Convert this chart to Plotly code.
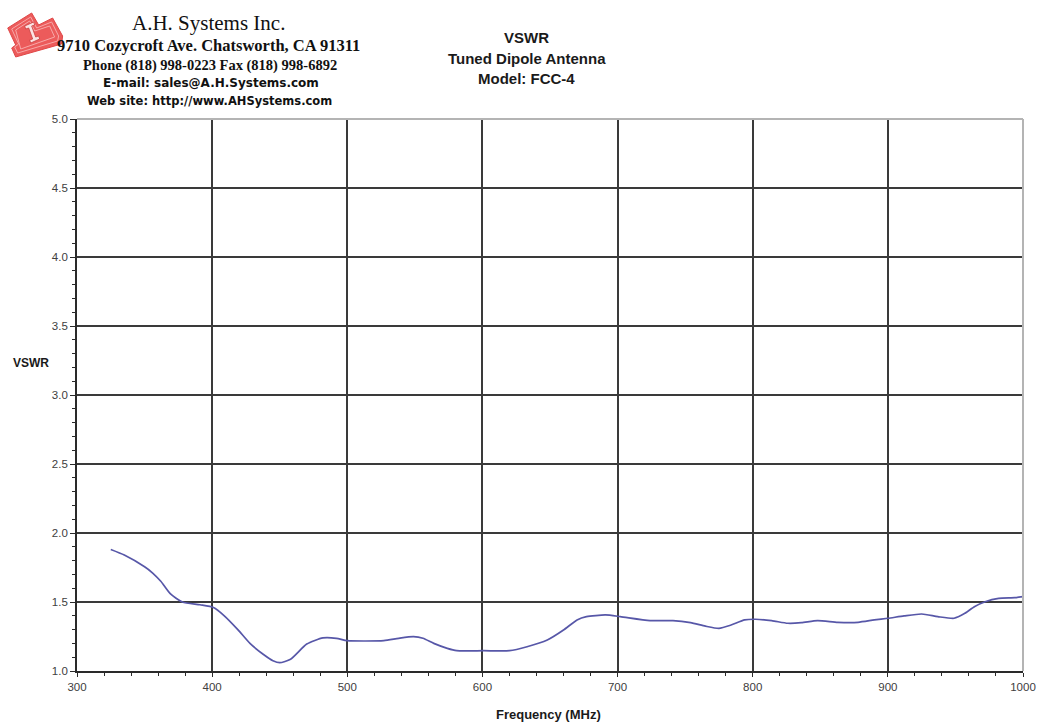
import plotly.graph_objects as go

# ---- data ----
freq_mhz = [325, 335, 350, 356, 362, 369, 378, 391, 401, 409, 419, 428, 438, 445, 450,
            458, 470, 482, 492, 500, 527, 538, 549, 556, 564, 574, 581, 601, 620, 633,
            648, 660, 670, 677, 691, 702, 724, 741, 754, 765, 775, 784, 794, 802, 814,
            826, 836, 848, 863, 878, 890, 900, 912, 925, 937, 949, 957, 964, 972, 982,
            994, 1000]
vswr = [1.88, 1.84, 1.755, 1.71, 1.65, 1.56, 1.50, 1.48, 1.46, 1.40, 1.30, 1.20, 1.12, 1.075, 1.06,
        1.085, 1.195, 1.24, 1.237, 1.22, 1.22, 1.237, 1.249, 1.237, 1.20, 1.164, 1.147, 1.147, 1.147, 1.176,
        1.225, 1.297, 1.37, 1.394, 1.406, 1.394, 1.365, 1.365, 1.35, 1.325, 1.309, 1.333, 1.37, 1.375, 1.365,
        1.346, 1.35, 1.365, 1.353, 1.353, 1.37, 1.382, 1.399, 1.413, 1.394, 1.382, 1.418, 1.466, 1.502, 1.526,
        1.531, 1.539]

x_tick_vals = [300, 400, 500, 600, 700, 800, 900, 1000]
y_tick_vals = [1.0, 1.5, 2.0, 2.5, 3.0, 3.5, 4.0, 4.5, 5.0]
y_tick_text = ["1.0", "1.5", "2.0", "2.5", "3.0", "3.5", "4.0", "4.5", "5.0"]

company_lines = ["A.H. Systems Inc.",
                 "9710 Cozycroft Ave. Chatsworth, CA 91311",
                 "Phone (818) 998-0223 Fax (818) 998-6892",
                 "E-mail: sales@A.H.Systems.com",
                 "Web site: http://www.AHSystems.com"]
title_lines = ["VSWR", "Tuned Dipole Antenna", "Model: FCC-4"]

# ---- layout geometry ----
W, H = 1048, 724
L, R, T, B = 77, 16, 119, 53
PW, PH = W - L - R, H - T - B


def px(xp):
    """x position in the 1040-wide target picture -> paper coordinate."""
    return (xp * W / 1040 - L) / PW


def py(yp):
    return (H - B - yp) / PH


fig = go.Figure()
fig.add_trace(go.Scatter(x=freq_mhz, y=vswr, mode="lines",
                         line=dict(color="#5757a8", width=1.7, shape="spline", smoothing=0.6),
                         hoverinfo="x+y", showlegend=False))

grid_col = "#3a3a3a"
tick_font = dict(family="Liberation Sans, Arial, sans-serif", size=11.5, color="#404040")

fig.update_xaxes(range=[300, 1000], tickvals=x_tick_vals, showgrid=True, gridcolor=grid_col,
                 gridwidth=1.7, showline=True, linecolor="#2a2a2a", linewidth=1.7,
                 ticks="outside", ticklen=4, tickcolor="#2a2a2a", tickwidth=1.2,
                 minor=dict(dtick=20, tick0=300, ticks="outside", ticklen=3,
                            tickcolor="#2a2a2a", tickwidth=1.2, showgrid=False),
                 tickfont=tick_font, zeroline=False)
fig.update_yaxes(range=[1.0, 5.0], tickvals=y_tick_vals, ticktext=y_tick_text, showgrid=True,
                 gridcolor=grid_col, gridwidth=1.7, showline=True, linecolor="#2a2a2a",
                 linewidth=1.7, ticks="outside", ticklen=5, tickcolor="#2a2a2a", tickwidth=1.2,
                 minor=dict(dtick=0.1, tick0=1.0, ticks="outside", ticklen=3,
                            tickcolor="#2a2a2a", tickwidth=1.2, showgrid=False),
                 tickfont=tick_font, zeroline=False)

shapes = [
    # light grey top and right border of the plot frame
    dict(type="line", xref="paper", yref="paper", x0=0, x1=1, y0=1, y1=1,
         line=dict(color="#b4b4b4", width=2), layer="above"),
    dict(type="line", xref="paper", yref="paper", x0=1, x1=1, y0=0, y1=1,
         line=dict(color="#b4b4b4", width=2), layer="above"),
]


def poly(points, fill, line_col, lw=1.0):
    d = "M " + " L ".join(f"{px(a):.5f},{py(b):.5f}" for a, b in points) + " Z"
    return dict(type="path", xref="paper", yref="paper", path=d, fillcolor=fill,
                line=dict(color=line_col, width=lw), layer="above")


# logo (stylised)
shapes.append(poly([(7, 28), (31, 13), (38, 25), (52, 18), (62, 36), (61, 44),
                    (15, 57), (11, 48), (15, 45)], "#ec5b5b", "#e04848", 1.0))
shapes.append(poly([(11, 29), (30, 17), (36, 28), (51, 22), (58, 36), (57, 41),
                    (17, 53), (14, 47), (18, 44)], "rgba(0,0,0,0)", "#f7a8a8", 1.0))
shapes.append(poly([(15, 30), (29, 21), (34, 31), (49, 26), (54, 37), (20, 49)],
                   "rgba(0,0,0,0)", "#f7a8a8", 1.0))
shapes.append(poly([(24, 26), (33, 22), (34, 25), (31, 26), (35, 37), (38, 36),
                    (39, 39), (30, 43), (29, 40), (32, 39), (28, 28), (25, 29)],
                   "#fbe3e3", "#c84040", 0.8))

annotations = []
serif = "Liberation Serif, Times New Roman, serif"
sans = "Liberation Sans, Arial, sans-serif"
wide_sans = "DejaVu Sans, Verdana, sans-serif"
comp_specs = [(208, 23, serif, 21, False), (208, 46, serif, 16.5, True),
              (210, 65, serif, 14.5, True), (211, 83, wide_sans, 12, True),
              (209, 101, wide_sans, 11.5, True)]
for text, (cx, cy, fam, size, bold) in zip(company_lines, comp_specs):
    annotations.append(dict(xref="paper", yref="paper", x=px(cx), y=py(cy), text=f"<b>{text}</b>" if bold else text,
                            showarrow=False, xanchor="center", yanchor="middle",
                            font=dict(family=fam, size=size, color="#111111")))
for text, cy in zip(title_lines, [38, 59, 78]):
    annotations.append(dict(xref="paper", yref="paper", x=px(527), y=py(cy), text=f"<b>{text}</b>",
                            showarrow=False, xanchor="center", yanchor="middle",
                            font=dict(family=sans, size=15, color="#1a1a1a")))
annotations.append(dict(xref="paper", yref="paper", x=px(30), y=py(363), text="<b>VSWR</b>",
                        showarrow=False, xanchor="center", yanchor="middle",
                        font=dict(family=sans, size=12, color="#1a1a1a")))
annotations.append(dict(xref="paper", yref="paper", x=px(549), y=py(714), text="<b>Frequency (MHz)</b>",
                        showarrow=False, xanchor="center", yanchor="middle",
                        font=dict(family=sans, size=13, color="#1a1a1a")))

fig.update_layout(width=W, height=H, autosize=False, margin=dict(l=L, r=R, t=T, b=B, pad=0),
                  paper_bgcolor="white", plot_bgcolor="white",
                  shapes=shapes, annotations=annotations, showlegend=False)

fig.write_html("out.html", config={"responsive": False, "displayModeBar": False},
               post_script="document.body.style.margin='0';document.body.style.overflow='hidden';")
